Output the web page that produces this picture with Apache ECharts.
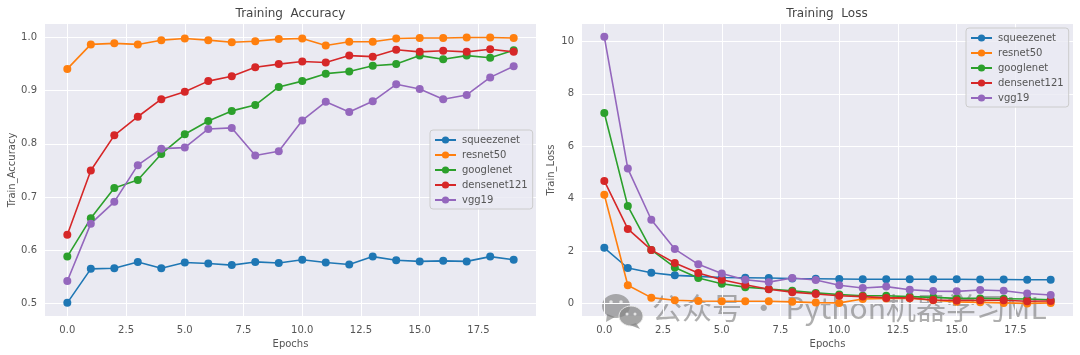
<!DOCTYPE html>
<html>
<head>
<meta charset="utf-8">
<style>
  html, body { margin: 0; padding: 0; background: #fff; }
  #main { width: 1080px; height: 355px; }
</style>
<script src="https://cdn.jsdelivr.net/npm/echarts@6/dist/echarts.min.js"></script>
</head>
<body>
<div id="main"></div>
<script>
const modelNames = ['squeezenet', 'resnet50', 'googlenet', 'densenet121', 'vgg19'];
const modelColors = ['#1f77b4', '#ff7f0e', '#2ca02c', '#d62728', '#9467bd'];

const accSqueezenet = [0.501, 0.565, 0.566, 0.578, 0.566, 0.577, 0.575, 0.572, 0.578, 0.576, 0.582, 0.577, 0.573, 0.588, 0.581, 0.579, 0.580, 0.579, 0.588, 0.582];
const accResnet50 = [0.941, 0.987, 0.989, 0.987, 0.995, 0.998, 0.995, 0.991, 0.993, 0.997, 0.998, 0.985, 0.992, 0.992, 0.998, 0.999, 0.999, 1.0, 1.0, 0.999];
const accGooglenet = [0.588, 0.660, 0.717, 0.732, 0.781, 0.818, 0.843, 0.862, 0.873, 0.907, 0.918, 0.932, 0.936, 0.947, 0.950, 0.966, 0.959, 0.966, 0.962, 0.976];
const accDensenet121 = [0.629, 0.750, 0.816, 0.851, 0.884, 0.898, 0.918, 0.927, 0.944, 0.950, 0.955, 0.953, 0.966, 0.964, 0.977, 0.973, 0.975, 0.973, 0.978, 0.973];
const accVgg19 = [0.542, 0.650, 0.691, 0.760, 0.791, 0.793, 0.828, 0.830, 0.778, 0.786, 0.844, 0.879, 0.860, 0.880, 0.912, 0.903, 0.884, 0.892, 0.925, 0.946];

const lossSqueezenet = [2.13, 1.36, 1.18, 1.08, 1.04, 1.00, 0.99, 0.98, 0.96, 0.95, 0.94, 0.93, 0.93, 0.93, 0.93, 0.93, 0.92, 0.92, 0.91, 0.91];
const lossResnet50 = [4.15, 0.70, 0.23, 0.13, 0.10, 0.09, 0.09, 0.09, 0.07, 0.04, 0.03, 0.18, 0.20, 0.21, 0.13, 0.07, 0.05, 0.03, 0.01, 0.03];
const lossGooglenet = [7.27, 3.72, 2.05, 1.38, 0.98, 0.76, 0.63, 0.56, 0.49, 0.41, 0.35, 0.30, 0.30, 0.27, 0.24, 0.20, 0.20, 0.19, 0.18, 0.15];
const lossDensenet121 = [4.68, 2.85, 2.05, 1.55, 1.17, 0.91, 0.72, 0.55, 0.44, 0.37, 0.30, 0.27, 0.22, 0.22, 0.14, 0.12, 0.13, 0.13, 0.09, 0.10];
const lossVgg19 = [10.17, 5.15, 3.20, 2.08, 1.50, 1.15, 0.91, 0.82, 0.98, 0.90, 0.70, 0.60, 0.65, 0.53, 0.48, 0.47, 0.52, 0.49, 0.39, 0.33];

const epochTicks = [0, 2.5, 5, 7.5, 10, 12.5, 15, 17.5];
const accTicks = [0.5, 0.6, 0.7, 0.8, 0.9, 1.0];
const lossTicks = [0, 2, 4, 6, 8, 10];

const textColor = '#555';
const fontName = 'DejaVu Sans';

function makeX(gridIndex) {
  return {
    type: 'value',
    gridIndex: gridIndex,
    min: -0.95,
    max: 19.95,
    name: 'Epochs',
    nameLocation: 'middle',
    nameGap: 20,
    nameTextStyle: { color: textColor, fontSize: 10, fontFamily: fontName },
    axisLine: { show: false },
    axisTick: { show: false, customValues: epochTicks },
    axisLabel: {
      color: textColor,
      fontSize: 10,
      fontFamily: fontName,
      margin: 9,
      customValues: epochTicks,
      formatter: v => v.toFixed(1)
    },
    splitLine: { show: true, lineStyle: { color: '#fff', width: 1 } }
  };
}

function makeY(gridIndex, name, min, max, ticks, digits, nameGap) {
  return {
    type: 'value',
    gridIndex: gridIndex,
    min: min,
    max: max,
    name: name,
    nameLocation: 'middle',
    nameGap: nameGap,
    nameTextStyle: { color: textColor, fontSize: 10, fontFamily: fontName },
    axisLine: { show: false },
    axisTick: { show: false, customValues: ticks },
    axisLabel: {
      color: textColor,
      fontSize: 10,
      fontFamily: fontName,
      margin: 8,
      padding: [2, 0, 0, 0],
      customValues: ticks,
      formatter: v => v.toFixed(digits)
    },
    splitLine: { show: true, lineStyle: { color: '#fff', width: 1 } }
  };
}

function makeSeries(name, color, values, gridIndex) {
  return {
    type: 'line',
    name: name,
    xAxisIndex: gridIndex,
    yAxisIndex: gridIndex,
    data: values.map((v, i) => [i, v]),
    symbol: 'circle',
    symbolSize: 8,
    showSymbol: true,
    smooth: false,
    itemStyle: { color: color },
    lineStyle: { color: color, width: 1.6 },
    emphasis: { disabled: true }
  };
}

function makeLegend(left, top) {
  return {
    data: modelNames,
    orient: 'vertical',
    left: left,
    top: top,
    itemWidth: 21,
    itemHeight: 9,
    itemGap: 5,
    padding: [5, 5, 4, 4],
    backgroundColor: 'rgba(234,234,242,0.8)',
    borderColor: '#ccc',
    borderWidth: 1,
    borderRadius: 3,
    selectedMode: false,
    textStyle: { color: textColor, fontSize: 10, fontFamily: fontName, padding: [0, 0, 0, 1] }
  };
}

const accValues = [accSqueezenet, accResnet50, accGooglenet, accDensenet121, accVgg19];
const lossValues = [lossSqueezenet, lossResnet50, lossGooglenet, lossDensenet121, lossVgg19];

const series = [];
modelNames.forEach((name, i) => series.push(makeSeries(name, modelColors[i], accValues[i], 0)));
modelNames.forEach((name, i) => series.push(makeSeries(name, modelColors[i], lossValues[i], 1)));

const chart = echarts.init(document.getElementById('main'), null, { renderer: 'canvas' });
chart.setOption({
  animation: false,
  backgroundColor: '#fff',
  textStyle: { fontFamily: fontName },
  title: [
    {
      text: 'Training  Accuracy',
      left: 285.5,
      top: 3,
      textAlign: 'center',
      textStyle: { color: '#444', fontSize: 12, fontWeight: 'normal', fontFamily: fontName }
    },
    {
      text: 'Training  Loss',
      left: 822,
      top: 3,
      textAlign: 'center',
      textStyle: { color: '#444', fontSize: 12, fontWeight: 'normal', fontFamily: fontName }
    }
  ],
  grid: [
    { left: 45, top: 24, width: 491, height: 292, show: true, backgroundColor: '#eaeaf2', borderWidth: 0 },
    { left: 582, top: 24, width: 491, height: 292, show: true, backgroundColor: '#eaeaf2', borderWidth: 0 }
  ],
  xAxis: [makeX(0), makeX(1)],
  yAxis: [
    makeY(0, 'Train_Accuracy', 0.4763, 1.0254, accTicks, 1, 28),
    makeY(1, 'Train_Loss', -0.47, 10.66, lossTicks, 0, 26)
  ],
  legend: [makeLegend(430, 130), makeLegend(966, 28)],
  series: series,
  graphic: [
    // watermark across the bottom of the right panel
    {
      type: 'group',
      silent: true,
      z: 100,
      children: [
        { type: 'ellipse', shape: { cx: 616, cy: 306, rx: 14, ry: 12 }, style: { fill: 'rgba(120,120,120,0.6)' } },
        { type: 'polygon', shape: { points: [[607, 314], [606, 322], [615, 317]] }, style: { fill: 'rgba(120,120,120,0.6)' } },
        { type: 'ellipse', shape: { cx: 631, cy: 316, rx: 12, ry: 10 }, style: { fill: 'rgba(135,135,135,0.75)', stroke: 'rgba(235,235,235,0.9)', lineWidth: 1 } },
        { type: 'polygon', shape: { points: [[636, 323], [640, 329], [630, 325]] }, style: { fill: 'rgba(135,135,135,0.75)' } },
        { type: 'circle', shape: { cx: 611, cy: 302, r: 1.8 }, style: { fill: 'rgba(235,235,235,0.9)' } },
        { type: 'circle', shape: { cx: 621, cy: 302, r: 1.8 }, style: { fill: 'rgba(235,235,235,0.9)' } },
        { type: 'circle', shape: { cx: 627, cy: 314, r: 1.5 }, style: { fill: 'rgba(235,235,235,0.9)' } },
        { type: 'circle', shape: { cx: 635, cy: 314, r: 1.5 }, style: { fill: 'rgba(235,235,235,0.9)' } },
        {
          type: 'text',
          x: 652,
          y: 293,
          style: {
            text: '公众号 · Python机器学习ML',
            fill: 'rgba(110,110,110,0.55)',
            font: '30px "Noto Sans CJK SC", "DejaVu Sans"'
          }
        }
      ]
    }
  ]
});
</script>
</body>
</html>
